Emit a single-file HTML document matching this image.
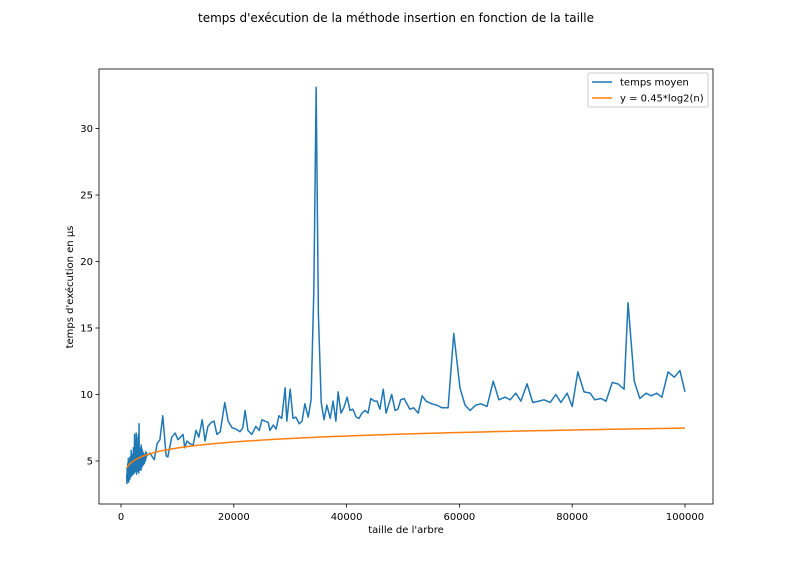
<!DOCTYPE html>
<html><head><meta charset="utf-8"><style>
body{margin:0;background:#fff;font-family:"Liberation Sans","DejaVu Sans",sans-serif}
svg text{font-family:"DejaVu Sans","Liberation Sans",sans-serif}
</style></head><body>
<svg id="c" width="792" height="576" xmlns="http://www.w3.org/2000/svg"></svg>
<script>
const dense=[4.0,3.3,4.5,3.5,4.8,3.7,5.2,3.4,5.0,3.9,4.6,3.6,5.3,4.1,4.9,3.8,5.8,4.2,5.1,3.9,5.5,4.3,5.2,4.0,6.0,4.2,5.4,4.1,7.0,4.3,5.6,4.2,6.5,4.5,7.1,4.0,6.8,4.4,5.9,4.2,6.3,4.2,7.0,4.1,7.8,4.3,5.8,4.4,6.0,4.6,5.7,4.3,6.2,4.5,5.9,4.6,5.8,4.8,5.5,4.7,5.6,4.9,5.4,4.8,5.5,5.0,5.3,5.0,5.7,5.2,5.6];
const sizesK=[4.6,5.1,5.9,6.4,6.9,7.4,8.0,8.3,9.0,9.6,10.1,11.0,11.3,11.7,12.2,12.8,13.3,13.8,14.4,14.9,15.4,16.0,16.5,17.0,17.6,18.4,19.0,19.7,20.4,21.1,21.6,22.0,22.5,23.2,23.9,24.5,25.0,25.5,26.1,26.4,27.0,27.5,28.0,28.5,29.1,29.4,30.0,30.5,31.0,31.6,32.1,32.6,33.2,33.7,34.2,34.6,35.0,35.5,36.0,36.5,37.1,37.6,38.1,38.5,39.0,39.5,40.1,40.6,41.1,41.7,42.2,42.7,43.3,43.8,44.3,44.9,45.4,45.9,46.5,47.0,47.5,48.0,48.6,49.1,49.6,50.2,50.7,51.2,51.9,52.7,53.4,54.1,55.1,56.0,56.9,58.0,59.0,60.1,61.0,61.9,62.9,63.8,64.9,66.0,67.0,68.1,69.0,70.0,70.9,72.0,73.0,74.1,75.0,76.1,77.1,78.0,79.1,80.0,81.0,82.1,83.2,84.0,85.1,86.0,87.1,88.1,89.2,89.9,91.0,92.0,93.1,94.0,95.0,95.9,97.0,98.1,99.1,100];
const times=[5.4,5.6,5.1,6.3,6.6,8.4,5.4,5.3,6.8,7.1,6.6,7.0,6.0,6.5,6.3,6.2,7.3,6.8,8.1,6.5,7.6,7.9,8.0,7.0,7.2,9.4,8.0,7.5,7.4,7.2,7.5,8.8,7.3,7.0,7.6,7.3,8.1,8.0,7.9,7.3,7.7,7.4,8.4,8.2,10.5,8.0,10.4,8.2,8.3,7.8,8.0,9.3,8.3,9.6,18,33.1,16,9.4,8.1,9.2,8.2,9.5,8.0,10.2,8.6,9.0,9.8,8.8,8.9,8.3,8.2,8.6,8.8,8.6,9.7,9.5,9.5,8.9,10.4,8.6,9.3,10.0,8.8,8.9,9.6,9.7,9.3,8.9,9.0,8.6,9.9,9.5,9.3,9.2,9.0,9.0,14.6,10.5,9.2,8.8,9.2,9.3,9.1,11.0,9.6,9.8,9.6,10.1,9.5,10.8,9.4,9.5,9.6,9.4,10.0,9.4,10.1,9.1,11.7,10.2,10.1,9.6,9.7,9.5,10.9,10.8,10.4,16.9,11.0,9.7,10.1,9.9,10.1,9.8,11.7,11.3,11.8,10.2];
const xTicks=[0,20000,40000,60000,80000,100000];
const yTicks=[5,10,15,20,25,30];
const coef=0.45;
const NS="http://www.w3.org/2000/svg",svg=document.getElementById('c');
const X=v=>121+(v/100000)*564, Y=v=>527.5-v*13.3;
function el(t,a,txt){const e=document.createElementNS(NS,t);for(const k in a)e.setAttribute(k,a[k]);if(txt!=null)e.textContent=txt;svg.appendChild(e);return e;}
const xs=[],ys=[];
dense.forEach((v,i)=>{xs.push(1000+i*50);ys.push(v);});
sizesK.forEach((k,i)=>{xs.push(k*1000);ys.push(times[i]);});
let t=el('text',{x:396,y:22,'text-anchor':'middle','font-size':12},"temps d'exécution de la méthode insertion en fonction de la taille");

let fr=el('rect',{x:99,y:69,width:614,height:435,fill:'none',stroke:'#000','stroke-width':0.8});

xTicks.forEach(v=>{el('line',{x1:X(v),x2:X(v),y1:504,y2:507.5,stroke:'#000','stroke-width':0.8});
 const l=el('text',{x:X(v),y:520,'text-anchor':'middle','font-size':10},String(v));
 });
yTicks.forEach(v=>{el('line',{x1:95.5,x2:99,y1:Y(v),y2:Y(v),stroke:'#000','stroke-width':0.8});
 const l=el('text',{x:93,y:Y(v)+3.5,'text-anchor':'end','font-size':10},String(v));
 });
let xl=el('text',{x:406,y:533,'text-anchor':'middle','font-size':10},"taille de l'arbre");

let yl=el('text',{x:73,y:287,'text-anchor':'middle','font-size':10,transform:'rotate(-90 73 287)'},"temps d'exécution en µs");

let p=el('polyline',{points:xs.map((x,i)=>X(x)+','+Y(ys[i])).join(' '),fill:'none',stroke:'#1f77b4','stroke-width':1.5,'stroke-linejoin':'round'});

let o=el('polyline',{points:xs.map(x=>X(x)+','+Y(coef*Math.log2(x))).join(' '),fill:'none',stroke:'#ff7f0e','stroke-width':1.5});

let lg=el('rect',{x:588,y:73,width:120,height:34,fill:'#fff',stroke:'#ccc',rx:2});

el('line',{x1:592,x2:612,y1:82,y2:82,stroke:'#1f77b4','stroke-width':1.5});
let a=el('text',{x:620,y:85.5,'font-size':10},'temps moyen');

el('line',{x1:592,x2:612,y1:98,y2:98,stroke:'#ff7f0e','stroke-width':1.5});
let b=el('text',{x:620,y:101.5,'font-size':10},'y = 0.45*log2(n)');

</script>
</body></html>
